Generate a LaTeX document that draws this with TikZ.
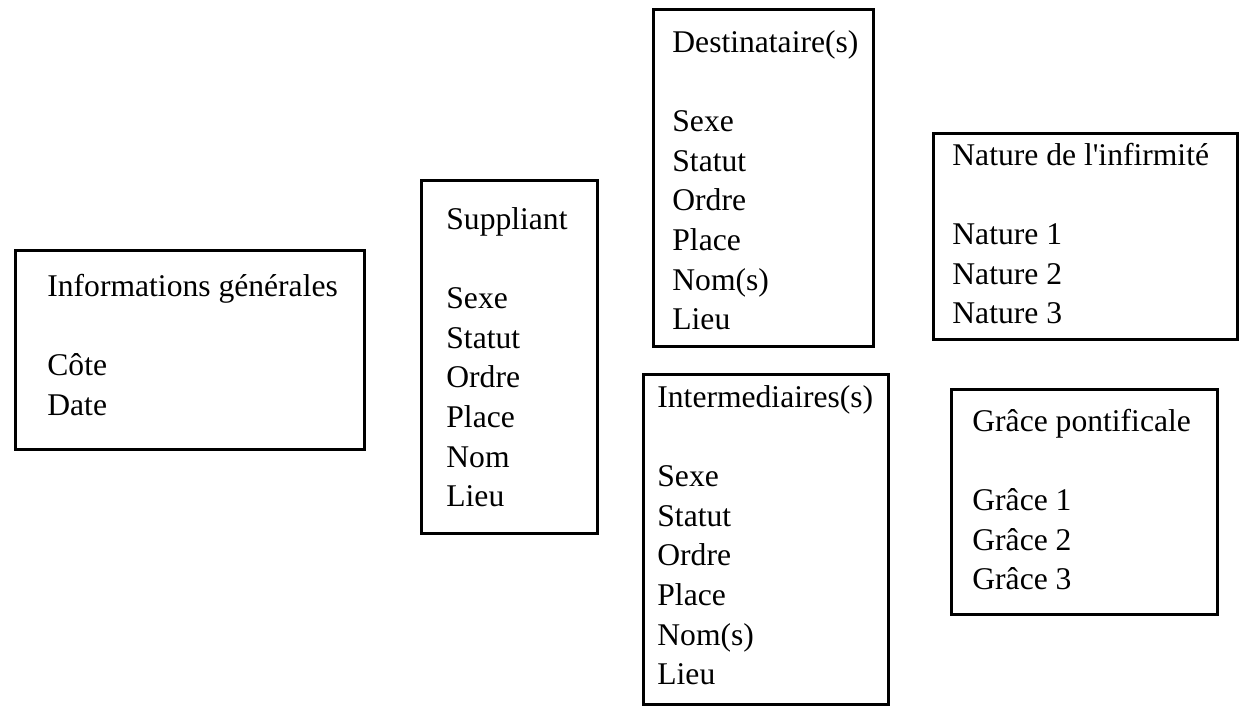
\documentclass[tikz,border=0pt]{standalone}
\usepackage{fontspec}
\setmainfont{Liberation Serif}
\usetikzlibrary{positioning}

\begin{document}
\begin{tikzpicture}[x=0.5pt, y=-0.5pt,
  boite/.style={draw, line width=1.5pt, inner sep=0pt, anchor=north west},
  texte/.style={align=left, inner sep=0pt, font=\fontsize{15.8}{19.8}\selectfont}]
\useasboundingbox (0,0) rectangle (1254,712);
% les six boites
\node (info) [boite, minimum width=174.5pt, minimum height=99.5pt] at (14,249) {};
\node (supp) [boite, minimum width=88pt, minimum height=176.5pt] at (420,179) {};
\node (dest) [boite, minimum width=110pt, minimum height=168.5pt] at (652,8) {};
\node (inter) [boite, minimum width=122.5pt, minimum height=165pt] at (642,373) {};
\node (nat) [boite, minimum width=152pt, minimum height=103pt] at (932,132) {};
\node (grace) [boite, minimum width=133pt, minimum height=112.5pt] at (950,388) {};
% les textes
\node (infoT) [texte, below right=9.65pt and 16.5pt of info.north west] {\strut Informations générales\\[\baselineskip] Côte\\ Date};
\node (suppT) [texte, below right=11.15pt and 13pt of supp.north west] {\strut Suppliant\\[\baselineskip] Sexe\\ Statut\\ Ordre\\ Place\\ Nom\\ Lieu};
\node (destT) [texte, below right=8.15pt and 10pt of dest.north west] {\strut Destinataire(s)\\[\baselineskip] Sexe\\ Statut\\ Ordre\\ Place\\ Nom(s)\\ Lieu};
\node (interT) [texte, below right=3.15pt and 7.5pt of inter.north west] {\strut Intermediaires(s)\\[\baselineskip] Sexe\\ Statut\\ Ordre\\ Place\\ Nom(s)\\ Lieu};
\node (natT) [texte, below right=2.65pt and 10pt of nat.north west] {\strut Nature de l\textquotesingle infirmité\\[\baselineskip] Nature 1\\ Nature 2\\ Nature 3};
\node (graceT) [texte, below right=7.65pt and 11pt of grace.north west] {\strut Grâce pontificale\\[\baselineskip] Grâce 1\\ Grâce 2\\ Grâce 3};
\end{tikzpicture}
\end{document}
